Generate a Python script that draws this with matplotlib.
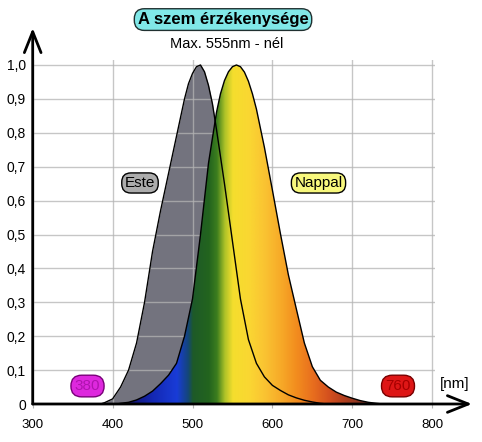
import numpy as np
import matplotlib
matplotlib.use("Agg")
import matplotlib.pyplot as plt

# ---------------- data ----------------
este_nm = [385, 390, 400, 410, 420, 430, 440, 450, 460, 470, 480, 490, 495, 500, 505, 510, 515,
           520, 525, 530, 540, 550, 560, 570, 580, 590, 600, 610, 620, 630, 640, 650, 660, 668]
este_val = [0.0, 0.004, 0.015, 0.05, 0.10, 0.18, 0.30, 0.45, 0.57, 0.68, 0.79, 0.90, 0.945, 0.975, 0.995, 1.0, 0.98,
            0.94, 0.885, 0.81, 0.65, 0.48, 0.31, 0.19, 0.12, 0.08, 0.055, 0.04, 0.027, 0.018, 0.011, 0.006, 0.002, 0.0]

nappal_nm = [405, 410, 420, 430, 440, 450, 460, 470, 480, 490, 500, 510, 520, 530, 535, 540, 545, 550, 555,
             560, 565, 570, 575, 580, 590, 600, 610, 620, 630, 640, 650, 660, 670, 680, 690, 700, 710, 720, 730, 738]
nappal_val = [0.0, 0.002, 0.005, 0.012, 0.023, 0.038, 0.06, 0.085, 0.12, 0.2, 0.31, 0.50, 0.71, 0.86, 0.915, 0.954,
              0.98, 0.995, 1.0, 0.995, 0.979, 0.952, 0.915, 0.87, 0.757, 0.631, 0.503, 0.381, 0.28, 0.18, 0.11,
              0.07, 0.05, 0.035, 0.025, 0.017, 0.01, 0.005, 0.002, 0.0]

x_ticks = [300, 400, 500, 600, 700, 800]
x_tick_labels = ["300", "400", "500", "600", "700", "800"]
y_ticks = [0, 0.1, 0.2, 0.3, 0.4, 0.5, 0.6, 0.7, 0.8, 0.9, 1.0]
y_tick_labels = ["0", "0,1", "0,2", "0,3", "0,4", "0,5", "0,6", "0,7", "0,8", "0,9", "1,0"]

title_text = "A szem érzékenysége"
subtitle_text = "Max. 555nm - nél"
este_label = "Este"
nappal_label = "Nappal"
left_limit_label = "380"
right_limit_label = "760"
unit_label = "[nm]"

# spectrum colour stops (wavelength -> rgb)
spec_nm = [380, 420, 450, 480, 494, 500, 520, 530, 540, 550, 570, 590, 610, 630, 650, 670, 690, 720, 760]
spec_rgb = [(20, 10, 60), (20, 20, 110), (20, 40, 180), (25, 60, 215), (20, 70, 120), (30, 90, 40),
            (35, 100, 30), (60, 125, 30), (175, 195, 40), (245, 222, 45), (250, 215, 50), (250, 195, 50),
            (247, 170, 40), (242, 140, 30), (232, 110, 30), (212, 80, 30), (175, 62, 30), (115, 52, 40),
            (80, 40, 40)]

# ---------------- figure ----------------
plt.rcParams['font.family'] = ['Liberation Sans', 'DejaVu Sans']
W, H = 482, 442
fig = plt.figure(figsize=(W / 100, H / 100), dpi=100)
fig.patch.set_facecolor('white')

x0_px, ppx = 32.7, 0.799      # px of 300 nm, px per nm
y0_px, ppy = 404.0, 339.0      # px of 0, px per unit
xmin, xmax = 300, 804
ymin, ymax = 0, 1.015
left = x0_px / W
width = (xmax - xmin) * ppx / W
bottom = (H - y0_px) / H
height = (ymax - ymin) * ppy / H
ax = fig.add_axes([left, bottom, width, height])
ax.set_xlim(xmin, xmax)
ax.set_ylim(ymin, ymax)
for s in ax.spines.values():
    s.set_visible(False)

# scotopic (Este) fill
ax.fill_between(este_nm, este_val, 0, color=(115/255, 115/255, 126/255), lw=0, zorder=2)

# photopic (Nappal) spectrum fill
xs = np.linspace(380, 760, 800)
r = np.interp(xs, spec_nm, [c[0] for c in spec_rgb]) / 255
g = np.interp(xs, spec_nm, [c[1] for c in spec_rgb]) / 255
b = np.interp(xs, spec_nm, [c[2] for c in spec_rgb]) / 255
img = np.dstack([r, g, b])
poly = ax.fill_between(nappal_nm, nappal_val, 0, color='none', lw=0, zorder=3)
im = ax.imshow(img, extent=[380, 760, 0, 1.0], aspect='auto', origin='lower', zorder=3,
               interpolation='bilinear')
im.set_clip_path(poly.get_paths()[0], transform=ax.transData)
ax.set_xlim(xmin, xmax)
ax.set_ylim(ymin, ymax)

# outlines
ax.plot(nappal_nm, nappal_val, color='black', lw=1.0, zorder=4, solid_joinstyle='round')
ax.plot(este_nm, este_val, color='black', lw=1.0, zorder=4, solid_joinstyle='round')

# grid
ax.set_xticks(x_ticks)
ax.set_xticklabels(x_tick_labels, fontsize=9.5)
ax.set_yticks(y_ticks)
ax.set_yticklabels(y_tick_labels, fontsize=10)
ax.grid(True, color='#b4b4b4', alpha=0.75, lw=1.0, zorder=5)
ax.set_axisbelow(False)
ax.tick_params(axis='x', length=3, color='#b4b4b4', pad=8)
ax.tick_params(axis='y', length=0, pad=5)

# axes arrows
ax.annotate('', xy=(849.8, 0), xytext=(300, 0), xycoords='data',
            arrowprops=dict(arrowstyle='->,head_length=0.75,head_width=0.3', lw=2.0, color='black',
                            shrinkA=0, shrinkB=0, mutation_scale=20),
            annotation_clip=False, zorder=6)
ax.annotate('', xy=(300, 1.109), xytext=(300, 0), xycoords='data',
            arrowprops=dict(arrowstyle='->,head_length=0.75,head_width=0.3', lw=2.0, color='black',
                            shrinkA=0, shrinkB=0, mutation_scale=20),
            annotation_clip=False, zorder=6)

# texts
ax.text(538.2, 1.134, title_text, ha='center', va='center', fontsize=12, fontweight='bold',
        bbox=dict(boxstyle='round,pad=0.2,rounding_size=0.6', fc=(128/255, 232/255, 232/255),
                  ec='#203030', lw=1.0), clip_on=False, zorder=7)
ax.text(543.2, 1.062, subtitle_text, ha='center', va='center', fontsize=10.5, clip_on=False, zorder=7)
ax.text(434.3, 0.652, este_label, ha='center', va='center', fontsize=11,
        bbox=dict(boxstyle='round,pad=0.2,rounding_size=0.6', fc=(172/255, 172/255, 172/255),
                  ec='black', lw=1.0), zorder=7)
ax.text(657.7, 0.652, nappal_label, ha='center', va='center', fontsize=11,
        bbox=dict(boxstyle='round,pad=0.2,rounding_size=0.6', fc=(248/255, 248/255, 125/255),
                  ec='black', lw=1.0), zorder=7)
ax.text(368.6, 0.053, left_limit_label, ha='center', va='center', fontsize=11, color=(175/255, 20/255, 175/255),
        bbox=dict(boxstyle='round,pad=0.25,rounding_size=0.7', fc=(222/255, 40/255, 222/255),
                  ec=(120/255, 0, 120/255), lw=1.0), zorder=7)
ax.text(757.2, 0.053, right_limit_label, ha='center', va='center', fontsize=11, color=(165/255, 0, 0),
        bbox=dict(boxstyle='round,pad=0.25,rounding_size=0.7', fc=(222/255, 22/255, 22/255),
                  ec=(120/255, 0, 0), lw=1.0), zorder=7)
ax.text(828.5, 0.059, unit_label, ha='center', va='center', fontsize=11, clip_on=False, zorder=7)

fig.savefig('out.png', dpi=100)
